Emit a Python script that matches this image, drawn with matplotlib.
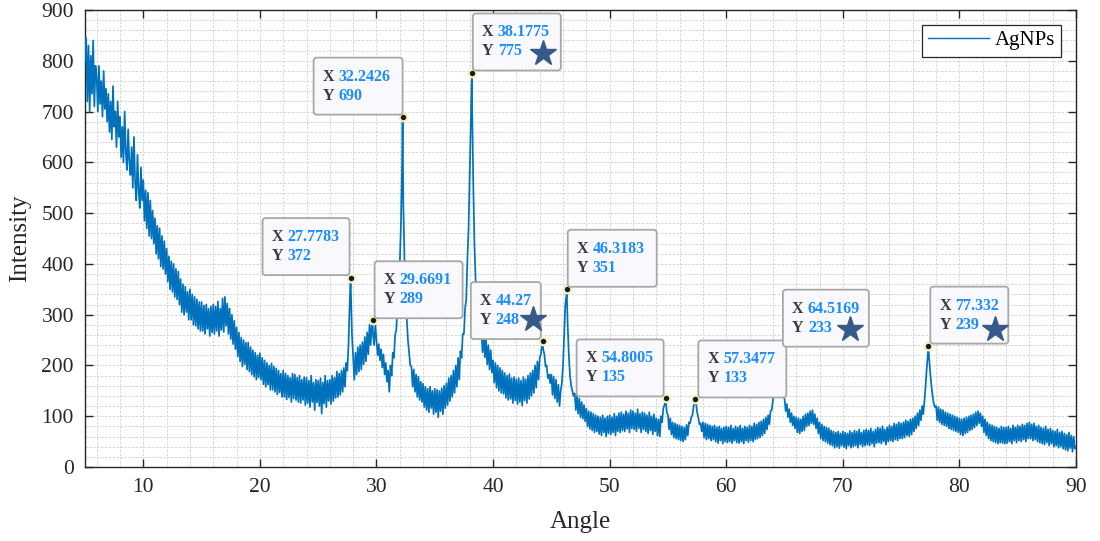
import numpy as np
import matplotlib
matplotlib.use("Agg")
import matplotlib.pyplot as plt
from matplotlib.patches import FancyBboxPatch
from matplotlib.lines import Line2D
from matplotlib.transforms import IdentityTransform
from matplotlib.ticker import MultipleLocator

# ---------------- data ----------------
start_angle = 5.0
angle_step = 0.1
# one row per degree: intensities at x.0, x.1, ... x.9
intensity_rows = [
    [800, 845, 720, 830, 700, 810, 735, 840, 710, 790],  # 5
    [770, 700, 790, 715, 760, 690, 780, 705, 745, 680],  # 6
    [735, 660, 720, 645, 750, 670, 700, 630, 720, 650],  # 7
    [690, 610, 670, 600, 700, 620, 585, 665, 600, 575],  # 8
    [630, 550, 650, 560, 525, 615, 545, 510, 590, 525],  # 9
    [565, 485, 545, 470, 540, 455, 525, 450, 505, 440],  # 10
    [490, 420, 475, 410, 470, 395, 455, 390, 445, 380],  # 11
    [430, 365, 415, 350, 405, 345, 400, 335, 390, 330],  # 12
    [385, 320, 370, 305, 360, 300, 355, 305, 345, 290],  # 13
    [350, 290, 340, 280, 335, 278, 330, 272, 325, 268],  # 14
    [325, 268, 318, 262, 320, 272, 312, 258, 316, 265],  # 15
    [320, 262, 316, 268, 326, 258, 312, 270, 332, 266],  # 16
    [335, 278, 322, 262, 312, 252, 300, 242, 288, 232],  # 17
    [275, 218, 265, 208, 255, 198, 250, 202, 245, 192],  # 18
    [245, 188, 236, 182, 230, 178, 225, 172, 220, 176],  # 19
    [224, 172, 215, 163, 210, 158, 205, 162, 200, 152],  # 20
    [204, 152, 198, 148, 194, 143, 190, 147, 184, 138],  # 21
    [190, 138, 184, 133, 180, 137, 176, 128, 184, 135],  # 22
    [182, 132, 176, 128, 180, 126, 172, 132, 177, 122],  # 23
    [176, 126, 170, 118, 180, 128, 166, 112, 172, 127],  # 24
    [170, 120, 175, 105, 166, 125, 180, 118, 170, 130],  # 25
    [172, 124, 180, 130, 176, 136, 188, 138, 184, 142],  # 26
    [190, 148, 195, 158, 205, 190, 240, 320, 350, 260],  # 27
    [215, 172, 225, 182, 236, 188, 240, 192, 246, 202],  # 28
    [256, 208, 265, 222, 280, 240, 282, 262, 240, 280],  # 29
    [250, 220, 242, 210, 232, 196, 222, 182, 205, 168],  # 30
    [190, 148, 200, 180, 225, 215, 260, 270, 320, 345],  # 31
    [400, 480, 600, 520, 410, 340, 290, 250, 225, 200],  # 32
    [198, 158, 192, 148, 182, 138, 178, 132, 168, 128],  # 33
    [164, 118, 158, 112, 154, 108, 158, 116, 150, 104],  # 34
    [154, 108, 152, 98, 150, 110, 155, 104, 160, 116],  # 35
    [165, 122, 175, 130, 180, 138, 190, 146, 200, 158],  # 36
    [215, 172, 228, 215, 262, 262, 312, 330, 410, 470],  # 37
    [580, 700, 720, 560, 440, 370, 330, 300, 285, 265],  # 38
    [270, 226, 264, 216, 250, 202, 240, 192, 230, 186],  # 39
    [210, 166, 205, 156, 200, 150, 195, 146, 190, 144],  # 40
    [185, 136, 180, 132, 183, 134, 175, 126, 177, 131],  # 41
    [173, 124, 175, 128, 170, 121, 177, 131, 173, 126],  # 42
    [180, 134, 185, 140, 190, 146, 200, 156, 208, 172],  # 43
    [215, 222, 240, 232, 222, 198, 200, 175, 182, 165],  # 44
    [182, 142, 178, 135, 172, 128, 162, 120, 150, 165],  # 45
    [200, 260, 320, 340, 280, 220, 180, 160, 150, 140],  # 46
    [145, 112, 140, 105, 135, 98, 128, 95, 122, 90],  # 47
    [115, 80, 110, 75, 108, 72, 105, 68, 102, 70],  # 48
    [100, 65, 98, 62, 102, 68, 96, 60, 100, 66],  # 49
    [102, 64, 98, 68, 105, 62, 100, 70, 106, 68],  # 50
    [108, 72, 104, 70, 110, 75, 106, 68, 112, 76],  # 51
    [110, 74, 106, 70, 114, 76, 105, 68, 108, 74],  # 52
    [106, 70, 102, 66, 108, 72, 100, 64, 104, 70],  # 53
    [96, 62, 94, 60, 100, 88, 115, 122, 132, 108],  # 54
    [102, 74, 96, 64, 88, 58, 86, 56, 84, 54],  # 55
    [82, 52, 80, 50, 78, 54, 83, 62, 88, 86],  # 56
    [98, 102, 120, 126, 127, 108, 98, 84, 86, 70],  # 57
    [88, 58, 86, 54, 84, 56, 82, 52, 80, 54],  # 58
    [82, 50, 78, 47, 80, 52, 76, 46, 78, 50],  # 59
    [80, 48, 78, 50, 82, 47, 76, 52, 80, 48],  # 60
    [78, 47, 82, 50, 76, 46, 80, 52, 78, 49],  # 61
    [82, 52, 80, 50, 86, 54, 84, 56, 88, 58],  # 62
    [90, 62, 94, 66, 98, 74, 102, 84, 110, 112],  # 63
    [130, 150, 170, 195, 220, 230, 210, 180, 155, 140],  # 64
    [134, 110, 124, 98, 114, 88, 106, 82, 100, 76],  # 65
    [98, 68, 96, 66, 94, 70, 100, 72, 104, 80],  # 66
    [106, 82, 110, 86, 112, 84, 104, 76, 96, 66],  # 67
    [88, 56, 84, 52, 80, 50, 78, 47, 76, 44],  # 68
    [72, 42, 70, 38, 68, 40, 70, 37, 66, 42],  # 69
    [70, 39, 68, 36, 66, 42, 71, 38, 68, 40],  # 70
    [72, 42, 70, 38, 74, 44, 68, 40, 72, 42],  # 71
    [74, 44, 72, 42, 76, 46, 70, 40, 74, 47],  # 72
    [78, 48, 76, 46, 80, 50, 74, 44, 78, 50],  # 73
    [82, 52, 80, 50, 86, 54, 84, 52, 88, 56],  # 74
    [86, 56, 88, 58, 92, 62, 90, 60, 94, 64],  # 75
    [96, 70, 100, 76, 106, 82, 112, 92, 120, 104],  # 76
    [130, 160, 195, 225, 215, 185, 160, 140, 125, 118],  # 77
    [120, 92, 118, 88, 114, 84, 112, 82, 108, 80],  # 78
    [106, 76, 104, 74, 102, 72, 100, 70, 98, 68],  # 79
    [96, 64, 94, 62, 96, 66, 98, 68, 100, 72],  # 80
    [102, 74, 104, 78, 108, 82, 110, 86, 106, 80],  # 81
    [100, 68, 94, 62, 88, 56, 84, 52, 82, 50],  # 82
    [80, 48, 78, 46, 76, 48, 80, 47, 78, 46],  # 83
    [78, 47, 80, 50, 76, 46, 82, 52, 78, 48],  # 84
    [82, 52, 80, 50, 84, 54, 82, 50, 86, 56],  # 85
    [88, 56, 84, 52, 86, 54, 80, 50, 82, 48],  # 86
    [78, 46, 76, 44, 80, 48, 74, 42, 76, 46],  # 87
    [72, 40, 70, 42, 74, 38, 68, 40, 70, 36],  # 88
    [66, 34, 64, 32, 68, 37, 62, 30, 60, 36],  # 89
]
end_intensity = 40  # at 90.0

peak_angles = [27.7783, 29.6691, 32.2426, 38.1775, 44.27,
               46.3183, 54.8005, 57.3477, 64.5169, 77.332]
peak_intensities = [372, 289, 690, 775, 248, 351, 135, 133, 233, 239]
peak_labels_x = ["27.7783", "29.6691", "32.2426", "38.1775", "44.27",
                 "46.3183", "54.8005", "57.3477", "64.5169", "77.332"]
peak_labels_y = ["372", "289", "690", "775", "248", "351", "135", "133", "233", "239"]
starred = [False, False, False, True, True, False, False, False, True, True]

series_name = "AgNPs"
x_label = "Angle"
y_label = "Intensity"
x_ticks = [10, 20, 30, 40, 50, 60, 70, 80, 90]
y_ticks = [0, 100, 200, 300, 400, 500, 600, 700, 800, 900]

# ---------------- build series ----------------
base_vals = [v for row in intensity_rows for v in row] + [end_intensity]
base_angles = np.round(start_angle + angle_step * np.arange(len(base_vals)), 4)
all_angles = np.concatenate([base_angles, peak_angles])
all_vals = np.concatenate([np.array(base_vals, float), np.array(peak_intensities, float)])
order = np.argsort(all_angles, kind="stable")
angles = all_angles[order]
intens = all_vals[order]

# ---------------- figure ----------------
plt.rcParams["font.family"] = ["Liberation Serif", "DejaVu Serif"]
DPI = 100
W, H = 1100, 541
fig = plt.figure(figsize=(W / DPI, H / DPI), dpi=DPI)
L, R, B, T = 85, 1076, 467, 10
ax = fig.add_axes([L / W, 1 - B / H, (R - L) / W, (B - T) / H])

line_color = "#0072BD"
ax.plot(angles, intens, color=line_color, lw=1.25, label=series_name, zorder=3)

ax.set_xlim(5, 90)
ax.set_ylim(0, 900)
ax.set_xticks(x_ticks)
ax.set_yticks(y_ticks)
ax.xaxis.set_minor_locator(MultipleLocator(2))
ax.yaxis.set_minor_locator(MultipleLocator(20))
ax.grid(which="both", color="#d6d6d6", lw=0.7, ls=(0, (2.5, 1.5)))
ax.set_axisbelow(True)

ax.tick_params(which="major", direction="in", top=True, right=True, length=6,
               width=1.0, color="#262626", labelsize=15.5, pad=8, labelcolor="#262626")
ax.tick_params(which="minor", length=0)
for sp in ax.spines.values():
    sp.set_color("#262626")
    sp.set_linewidth(1.0)

ax.set_xlabel(x_label, fontsize=18, color="#262626", va="center")
ax.set_ylabel(y_label, fontsize=18, color="#262626", va="center")
ax.xaxis.set_label_coords(0.5, -(522 - B) / (B - T))
ax.yaxis.set_label_coords(-(L - 20) / (R - L), 0.5)

leg = ax.legend(loc="upper right", fontsize=15, frameon=True, fancybox=False,
                edgecolor="#262626", handlelength=2.9, handletextpad=0.3,
                borderpad=0.3, borderaxespad=0.7)
leg.get_frame().set_linewidth(0.9)
leg.get_frame().set_facecolor("white")
leg.get_frame().set_alpha(1)
for h in leg.get_lines():
    h.set_linewidth(1.0)

# data-tip markers
ax.plot(peak_angles, peak_intensities, ls="none", marker="o", ms=5.5,
        mfc="#1a1a1a", mec="#f2f2c0", mew=1.6, zorder=6, clip_on=False)

# ---------------- data tips (pixel layout) ----------------
# side: box anchored with its lower-left ('L') or lower-right ('R') corner near the point
tip_side = ["R", "L", "R", "L", "R", "L", "R", "L", "L", "L"]
tip_gap = [(1, 3), (2, 2), (0, 2), (1, 3), (2, 2), (1, 2), (2, 2), (3, 2), (4, 2), (2, 2)]
tip_width = [87, 88, 89, 88, 70, 89, 87, 88, 86, 78]
tip_height = 57
star_offset = {3: (-18, 17), 4: (-8, 20), 8: (-19, 18), 9: (-13, 15)}

fig.canvas.draw()
ident = IdentityTransform()
for i, (px_a, py_a) in enumerate(zip(peak_angles, peak_intensities)):
    dx, dy = ax.transData.transform((px_a, py_a))
    gx, gy = tip_gap[i]
    w = tip_width[i]
    if tip_side[i] == "L":
        x0 = dx + gx
    else:
        x0 = dx - gx - w
    y0 = dy + gy
    box = FancyBboxPatch((x0, y0), w, tip_height,
                         boxstyle="round,pad=0,rounding_size=3",
                         fc="#f9f9fd", ec="#a8a8a8", lw=1.3,
                         transform=ident, zorder=7)
    fig.add_artist(box)
    for lab, val, yy in (("X", peak_labels_x[i], y0 + 38), ("Y", peak_labels_y[i], y0 + 19)):
        fig.text(x0 + 9, yy, lab, transform=ident, fontsize=11.5, fontweight="bold",
                 color="#3a3a3a", va="center", ha="left", zorder=8)
        fig.text(x0 + 25, yy, val, transform=ident, fontsize=11.5, fontweight="bold",
                 color="#1a8cff", va="center", ha="left", zorder=8)
    if starred[i]:
        sx, sy = star_offset[i]
        fig.add_artist(Line2D([x0 + w + sx], [y0 + sy], marker="*", ms=19,
                              color="#355a8a", mec="#355a8a", ls="none",
                              transform=ident, zorder=9))

fig.savefig("out.png", dpi=DPI)
